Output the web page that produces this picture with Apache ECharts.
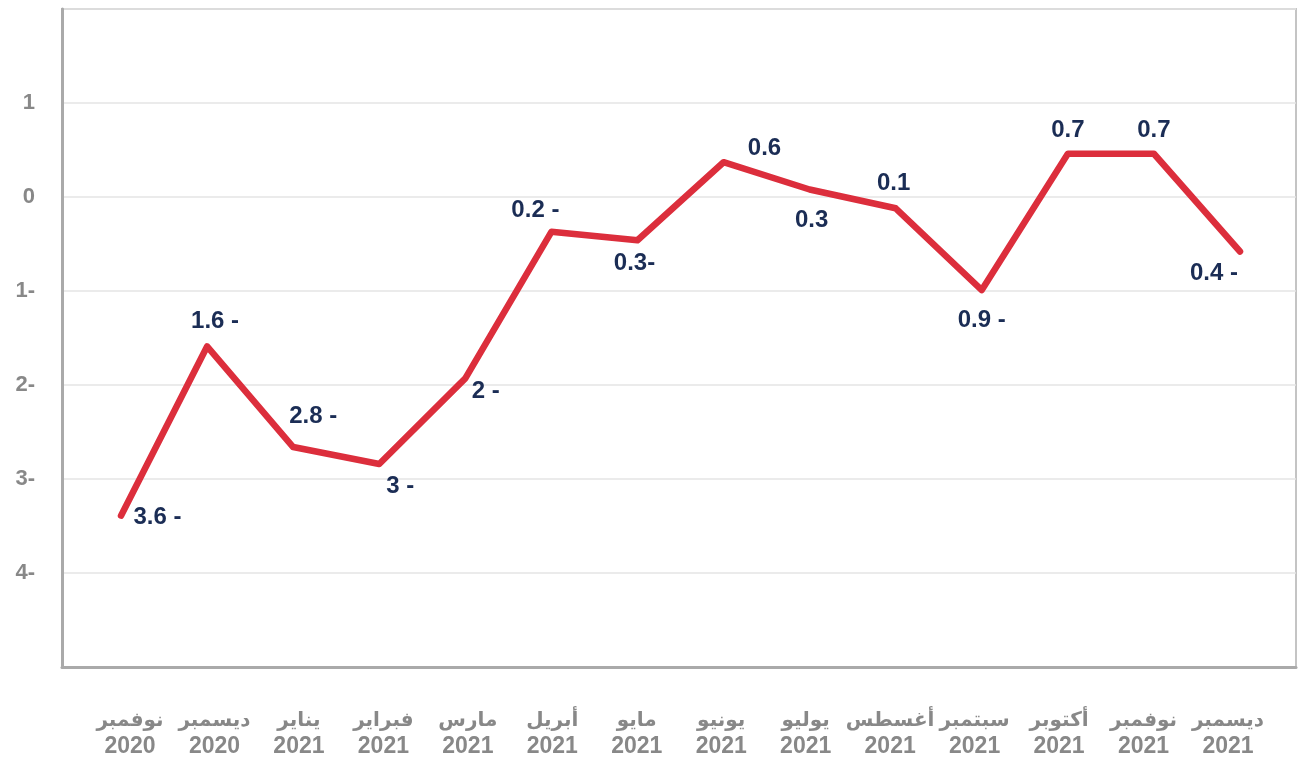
<!DOCTYPE html>
<html style="height: 100%">
<head>
	<meta charset="utf-8">
	<title>Line</title>
	<script src="https://cdn.jsdelivr.net/npm/echarts@6/dist/echarts.min.js"></script>
</head>
<body style="height: 100%; margin: 0; background: #fff">
	<div id="main" style="width: 1298px; height: 758px"></div>
	<script type="text/javascript">

		// months (RTL labels, two lines)
		var months = ['نوفمبر', 'ديسمبر', 'يناير', 'فبراير', 'مارس', 'أبريل', 'مايو', 'يونيو', 'يوليو', 'أغسطس', 'سبتمبر', 'أكتوبر', 'نوفمبر', 'ديسمبر'];
		var years = ['2020', '2020', '2021', '2021', '2021', '2021', '2021', '2021', '2021', '2021', '2021', '2021', '2021', '2021'];
		// plotted values
		var values = [-3.39, -1.59, -2.66, -2.84, -1.93, -0.37, -0.46, 0.37, 0.08, -0.12, -0.99, 0.46, 0.46, -0.58];
		// printed labels
		var labels = ['3.6 -', '1.6 -', '2.8 -', '3 -', '2 -', '0.2 -', '0.3-', '0.6', '0.3', '0.1', '0.9 -', '0.7', '0.7', '0.4 -'];

		var cats = months.map(function(m, i){ return m + '|' + years[i]; });

		// where each label sits next to its point
		var place = [
			['right', 12, [0, 2]],
			['top', 13, [8, 0]],
			['top', 18, [20, 0]],
			['bottom', 10, [21, 0]],
			['right', 6, [0, 13]],
			['top', 9, [-16, 0]],
			['bottom', 11, [-3, 0]],
			['top', 1, [41, 0]],
			['bottom', 18, [2, 0]],
			['top', 12, [-2, 0]],
			['bottom', 18, [0, 0]],
			['top', 11, [0, 0]],
			['top', 11, [0, 0]],
			['bottom', 9, [-26, 0]]
		];

		var seriesData = values.map(function(v, i){
			return {
				value: v,
				label: {
					show: true,
					formatter: labels[i],
					position: place[i][0],
					distance: place[i][1],
					offset: place[i][2]
				}
			};
		});

		var myChart = echarts.init(document.getElementById('main'));

		var option = {
			animation: false,
			backgroundColor: '#fff',
			grid: [
				{left: 62, right: 2, top: 9, bottom: 91, show: true, borderColor: '#c4c4c4', borderWidth: 2},
				{left: 121, right: 58, top: 9, bottom: 91},
				{left: 130, right: 70, top: 9, bottom: 91}
			],
			xAxis: [
				{
					gridIndex: 0, type: 'value', min: 0, max: 1,
					axisLine: {show: true, onZero: false, lineStyle: {color: '#aaaaaa', width: 3}},
					axisTick: {show: false}, axisLabel: {show: false}, splitLine: {show: false}
				},
				{
					gridIndex: 1, type: 'category', boundaryGap: false, data: cats,
					axisLine: {show: false}, axisTick: {show: false}, axisLabel: {show: false}
				},
				{
					gridIndex: 2, type: 'category', boundaryGap: false, data: cats,
					axisLine: {show: false}, axisTick: {show: false},
					axisLabel: {
						interval: 0, margin: 42,
						color: '#888888', fontWeight: 'bold',
						formatter: function(v){
							var p = v.split('|');
							return '{m|' + p[0] + '}\n{y|' + p[1] + '}';
						},
						rich: {
							m: {fontSize: 20, fontWeight: 'bold', color: '#888888', lineHeight: 27, fontFamily: 'DejaVu Sans, sans-serif'},
							y: {fontSize: 23, fontWeight: 'bold', color: '#888888', lineHeight: 25, fontFamily: 'Liberation Sans, Arial, sans-serif'}
						}
					}
				}
			],
			yAxis: [
				{
					gridIndex: 0, type: 'value', min: -5, max: 2, interval: 1,
					axisLine: {show: true, onZero: false, lineStyle: {color: '#aaaaaa', width: 3}},
					axisTick: {show: false},
					splitLine: {lineStyle: {color: '#e4e4e4', width: 1.5}},
					axisLabel: {
						margin: 27, color: '#888888', fontSize: 22, fontWeight: 'bold',
						fontFamily: 'Liberation Sans, Arial, sans-serif',
						formatter: function(v){
							if (v === 2 || v === -5) return '';
							return v < 0 ? (-v) + '-' : String(v);
						}
					}
				},
				{
					gridIndex: 1, type: 'value', min: -5, max: 2, interval: 1, show: false
				},
				{
					gridIndex: 2, type: 'value', min: -5, max: 2, interval: 1, show: false
				}
			],
			series: [{
				type: 'line',
				xAxisIndex: 1,
				yAxisIndex: 1,
				data: seriesData,
				symbol: 'circle',
				symbolSize: 1,
				showSymbol: true,
				itemStyle: {color: '#dc2e3c'},
				lineStyle: {color: '#dc2e3c', width: 6.5, cap: 'round', join: 'round'},
				label: {
					show: true,
					color: '#1b2d55',
					fontSize: 24,
					fontWeight: 'bold',
					fontFamily: 'Liberation Sans, Arial, sans-serif'
				}
			}]
		};

		myChart.setOption(option);
	</script>
</body>
</html>
